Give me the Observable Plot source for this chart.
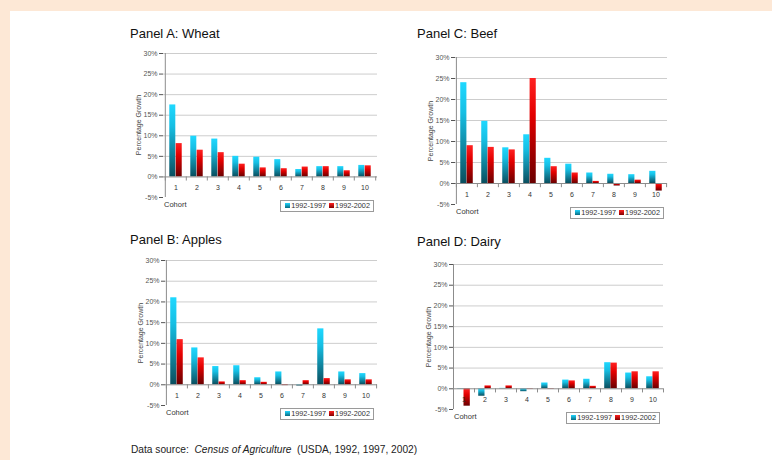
<!DOCTYPE html>
<html><head><meta charset="utf-8">
<script src="https://cdn.jsdelivr.net/npm/d3@7"></script>
<script src="https://cdn.jsdelivr.net/npm/@observablehq/plot@0.6"></script>
<style>
body{margin:0;font-family:"Liberation Sans",Arial,sans-serif;}
#root{position:relative;width:772px;height:460px;background:#fde8d6;overflow:hidden}
#paper{position:absolute;left:10px;top:11px;right:0;bottom:0;background:#fff}
.abs{position:absolute;white-space:nowrap}
.title{font-size:13px;color:#111;transform:translateY(-50%)}
.ylab{font-size:7px;color:#444;transform:translate(-50%,-50%) rotate(-90deg)}
.cohort{font-size:7.5px;color:#333;transform:translateY(-50%)}
.legend{font-size:7.3px;color:#333;border:1px solid #9a9a9a;background:#fff;height:10px;line-height:10px;padding:0 3px 0 1px;}
.sw{display:inline-block;width:5px;height:5px;margin:0 1px 0 3px;vertical-align:0px}
.swb{background:linear-gradient(#1fd6ff,#0a6b80)}
.swr{background:linear-gradient(#ff2020,#800000)}
.caption{font-size:10.2px;color:#222;transform:translateY(-50%)}
svg.plotsvg{position:absolute;overflow:visible}
</style></head>
<body>
<div id="root"><div id="paper"></div>
<svg width="0" height="0" style="position:absolute">
<defs>
<linearGradient id="gBlue" x1="0" y1="0" x2="0" y2="1">
<stop offset="0" stop-color="#1fd8ff"/><stop offset="0.3" stop-color="#16bfe4"/><stop offset="1" stop-color="#0a4e5e"/>
</linearGradient>
<linearGradient id="gRed" x1="0" y1="0" x2="0" y2="1">
<stop offset="0" stop-color="#ff2222"/><stop offset="0.35" stop-color="#e40000"/><stop offset="1" stop-color="#6a0000"/>
</linearGradient>
</defs>
</svg>
</div>
<script>
// ---- data ----
const cohorts = [1,2,3,4,5,6,7,8,9,10];
const seriesLabels = ["1992-1997","1992-2002"];
const yTicks = [-5,0,5,10,15,20,25,30];
const gridTicks = [5,10,15,20,25,30];

const wheat9297 = [17.5, 9.9, 9.2, 5.0, 4.8, 4.2, 1.8, 2.5, 2.5, 2.8];
const wheat9202 = [8.1, 6.5, 5.9, 3.1, 2.2, 2.0, 2.4, 2.5, 1.5, 2.7];
const beef9297 = [24.0, 14.8, 8.5, 11.6, 6.0, 4.6, 2.5, 2.2, 2.1, 2.9];
const beef9202 = [9.0, 8.6, 8.0, 25.0, 4.0, 2.5, 0.5, -0.6, 0.8, -1.8];
const apples9297 = [21.0, 8.9, 4.4, 4.6, 1.7, 3.1, -0.3, 13.5, 3.1, 2.7];
const apples9202 = [10.9, 6.5, 0.7, 1.0, 0.6, -0.2, 1.0, 1.5, 1.2, 1.2];
const dairy9297 = [-0.1, -1.8, 0.1, -0.7, 1.4, 2.1, 2.3, 6.3, 3.8, 2.9];
const dairy9202 = [-4.2, 0.7, 0.7, -0.1, -0.1, 1.9, 0.6, 6.2, 4.1, 4.1];

const panelTitles = ["Panel A: Wheat","Panel C: Beef","Panel B: Apples","Panel D: Dairy"];
const panelSeries = [[wheat9297,wheat9202],[beef9297,beef9202],[apples9297,apples9202],[dairy9297,dairy9202]];

// ---- layout ----
const layout = [
  {left:163, top:53, right:377, bottom:197, tx:130, ty:33},
  {left:455, top:57, right:667, bottom:204, tx:417, ty:33},
  {left:165, top:260, right:377, bottom:405, tx:130, ty:239},
  {left:453, top:264, right:663, bottom:409, tx:417, ty:241}
];

const root = document.getElementById("root");
function addDiv(cls, html, css){
  const d = document.createElement("div");
  d.className = "abs " + cls;
  d.innerHTML = html;
  Object.assign(d.style, css);
  root.appendChild(d);
  return d;
}

panelTitles.forEach((title, i) => {
  const L = layout[i];
  const [s1, s2] = panelSeries[i];
  const rows = cohorts.map((c, j) => ({cohort: c, a: s1[j], b: s2[j]}));
  const iw = L.right - L.left, ih = L.bottom - L.top;
  const ml = 40, mt = 6, mr = 4, mb = 24;
  const step = iw / cohorts.length;
  const axisColor = "#8c8c8c";
  const svg = Plot.plot({
    width: iw + ml + mr, height: ih + mt + mb,
    marginLeft: ml, marginTop: mt, marginRight: mr, marginBottom: mb,
    x: {type: "band", domain: cohorts, padding: 0, axis: null},
    y: {domain: [-5, 30], ticks: yTicks, tickFormat: d => d + "%", tickSize: 4, tickPadding: 2, label: null},
    style: {fontFamily: "Liberation Sans, Arial, sans-serif", fontSize: "7px", color: "#555", background: "none", overflow: "visible"},
    marks: [
      Plot.ruleY(gridTicks, {stroke: "#cdcdcd"}),
      Plot.barY(rows, {x: "cohort", y: "a", fill: "url(#gBlue)", insetLeft: step * 0.2, insetRight: step * 0.5}),
      Plot.barY(rows, {x: "cohort", y: "b", fill: "url(#gRed)", insetLeft: step * 0.5, insetRight: step * 0.2}),
      Plot.ruleY([0], {stroke: axisColor}),
      Plot.ruleX([cohorts[0]], {x: d => d, dx: -step / 2, y1: -5, y2: 30, stroke: axisColor}),
      Plot.ruleX(cohorts, {x: d => d, dx: -step / 2, y1: 0, y2: -1, stroke: axisColor}),
      Plot.ruleX([cohorts[cohorts.length - 1]], {x: d => d, dx: step / 2, y1: 0, y2: -1, stroke: axisColor}),
      Plot.text(cohorts, {x: d => d, y: 0, text: d => String(d), dy: 11, fill: "#333", fontSize: 7})
    ]
  });
  svg.classList.add("plotsvg");
  svg.style.left = (L.left - ml) + "px";
  svg.style.top = (L.top - mt) + "px";
  root.appendChild(svg);

  addDiv("title", title, {left: L.tx + "px", top: L.ty + "px"});
  addDiv("ylab", "Percentage Growth", {left: (L.left - 25) + "px", top: ((L.top + L.bottom) / 2) + "px"});
  addDiv("cohort", "Cohort", {left: (L.left + 1) + "px", top: (L.bottom + 7) + "px"});
  addDiv("legend",
    `<span class="sw swb"></span>${seriesLabels[0]}<span class="sw swr"></span>${seriesLabels[1]}`,
    {right: (772 - (L.right - 3)) + "px", top: (L.bottom + 3) + "px"});
});

addDiv("caption", "Data source:&nbsp; <i>Census of Agriculture</i>&nbsp; (USDA, 1992, 1997, 2002)", {left: "131px", top: "449px"});
</script>
</body></html>
